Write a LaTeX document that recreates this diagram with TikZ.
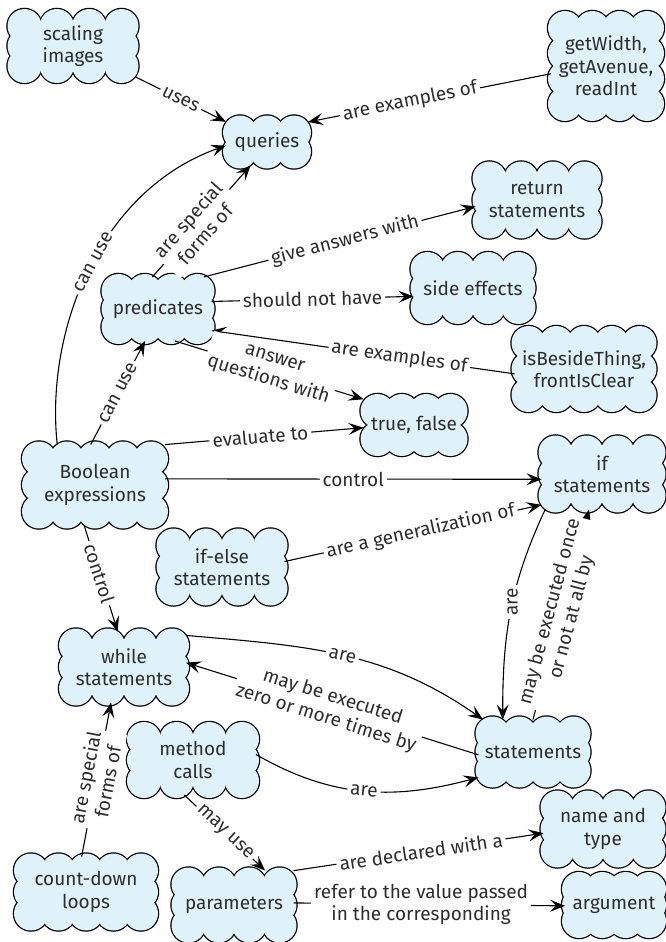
\documentclass[tikz,border=0pt]{standalone}
\usepackage{fontspec}
\setmainfont{Fira Sans}
\usetikzlibrary{arrows.meta,calc}
\definecolor{cloudfill}{RGB}{223,242,250}
\definecolor{ink}{RGB}{45,45,45}
\pgfdeclarelayer{paper}
\pgfdeclarelayer{puffline}
\pgfdeclarelayer{pufffill}
\pgfsetlayers{paper,puffline,pufffill,main}
% radius of one puff and how far the puff centres sit inside the node border
\newcommand\puffr{17pt}
\newcommand\puffinset{14}
% one pass of puffs (outline pass or fill pass) round a named node
\newcommand\puffpass[5]{%
  \begin{pgfonlayer}{#1}
    \foreach \i in {0,...,#4} {
      \pgfmathsetmacro\fr{\i/#4}
      \path[#2] ($(#3-tl)!\fr!(#3-tr)$) circle[radius=\puffr]
                ($(#3-bl)!\fr!(#3-br)$) circle[radius=\puffr];
    }
    \ifnum#5>0
    \foreach \j in {1,...,#5} {
      \pgfmathsetmacro\fr{\j/(#5+1)}
      \path[#2] ($(#3-tl)!\fr!(#3-bl)$) circle[radius=\puffr]
                ($(#3-tr)!\fr!(#3-br)$) circle[radius=\puffr];
    }
    \fi
    \path[#2] (#3-tl) rectangle (#3-br);
  \end{pgfonlayer}}
% cloud behind a node: #1 name, #2 gaps along top/bottom, #3 puffs on each side
\newcommand\puffcloud[3]{%
  \coordinate (#1-tl) at ([shift={(\puffinset,\puffinset)}]#1.north west);
  \coordinate (#1-tr) at ([shift={(-\puffinset,\puffinset)}]#1.north east);
  \coordinate (#1-bl) at ([shift={(\puffinset,-\puffinset)}]#1.south west);
  \coordinate (#1-br) at ([shift={(-\puffinset,-\puffinset)}]#1.south east);
  \puffpass{puffline}{puffstroke}{#1}{#2}{#3}%
  \puffpass{pufffill}{puffbody}{#1}{#2}{#3}}
\begin{document}
\begin{tikzpicture}[x=1pt,y=-1pt,
  every node/.style={font=\fontsize{19}{22.5}\selectfont, text=ink},
  concept/.style={rectangle, align=center, inner sep=0pt, outer sep=1pt},
  puffstroke/.style={draw=black, line width=2.5pt},
  puffbody/.style={fill=cloudfill},
  con/.style={draw=black, line width=1.1pt},
  arr/.style={con, -{Stealth[length=15pt, width=12pt, inset=6pt]}},
  lbl/.style={fill=white, inner sep=3pt, align=center}]
\useasboundingbox (0,0) rectangle (665,942);
\begin{pgfonlayer}{paper}
  \fill[white] (0,0) rectangle (665,942);
\end{pgfonlayer}

% concepts
\node[concept, minimum width=123pt, minimum height=66pt]  (scal)    at (73,46)   {scaling\\images};
\node[concept, minimum width=80pt,  minimum height=45pt]  (queries) at (267,142) {queries};
\node[concept, minimum width=108pt, minimum height=102pt] (getw)    at (606,66)  {getWidth,\\getAvenue,\\readInt};
\node[concept, minimum width=121pt, minimum height=69pt]  (ret)     at (537,200) {return\\statements};
\node[concept, minimum width=105pt, minimum height=62pt]  (pred)    at (158,309) {predicates};
\node[concept, minimum width=117pt, minimum height=64pt]  (side)    at (473,288) {side effects};
\node[concept, minimum width=137pt, minimum height=78pt]  (isb)     at (584,369) {isBesideThing,\\frontIsClear};
\node[concept, minimum width=99pt,  minimum height=54pt]  (tf)      at (414,425) {true, false};
\node[concept, minimum width=138pt, minimum height=79pt]  (bool)    at (95,485)  {Boolean\\expressions};
\node[concept, minimum width=119pt, minimum height=69pt]  (ifs)     at (602,474) {if\\statements};
\node[concept, minimum width=123pt, minimum height=69pt]  (ifelse)  at (222,567) {if-else\\statements};
\node[concept, minimum width=122pt, minimum height=69pt]  (whiles)  at (124,667) {while\\statements};
\node[concept, minimum width=124pt, minimum height=68pt]  (meth)    at (193,760) {method\\calls};
\node[concept, minimum width=107pt, minimum height=63pt]  (stmts)   at (533,752) {statements};
\node[concept, minimum width=136pt, minimum height=69pt]  (cdl)     at (86,892)  {count-down\\loops};
\node[concept, minimum width=117pt, minimum height=67pt]  (params)  at (234,905) {parameters};
\node[concept, minimum width=117pt, minimum height=69pt]  (name)    at (603,829) {name and\\type};
\node[concept, minimum width=96pt,  minimum height=58pt]  (arg)     at (614,905) {argument};

% cloud outlines behind the concepts
\puffcloud{scal}{3}{1}
\puffcloud{queries}{2}{0}
\puffcloud{getw}{3}{2}
\puffcloud{ret}{3}{1}
\puffcloud{pred}{3}{1}
\puffcloud{side}{3}{1}
\puffcloud{isb}{4}{1}
\puffcloud{tf}{3}{0}
\puffcloud{bool}{4}{1}
\puffcloud{ifs}{3}{1}
\puffcloud{ifelse}{3}{1}
\puffcloud{whiles}{3}{1}
\puffcloud{meth}{3}{1}
\puffcloud{stmts}{3}{1}
\puffcloud{cdl}{4}{1}
\puffcloud{params}{3}{1}
\puffcloud{name}{3}{1}
\puffcloud{arg}{3}{1}

% links
\draw[arr] (scal) -- node[lbl, sloped] (l1) {uses} (queries);
\draw[arr] (getw.188) -- node[lbl, sloped, pos=0.58] (l2) {are examples of} (queries.26);
\draw[arr] (bool.133) .. controls (45,330) and (100,190) .. node[lbl, sloped, pos=0.52] (l3) {can use} (queries.185);
\draw[arr] (pred.100) -- node[lbl, sloped, pos=0.45] (l4) {are special\\forms of} (queries.235);
\draw[arr] (pred.35) -- node[lbl, sloped, pos=0.52] (l5) {give answers with} (ret.186);
\draw[arr] (pred.8) -- node[lbl, sloped] (l6) {should not have} (side.188);
\draw[arr] (isb.184) -- node[lbl, sloped, pos=0.38] (l7) {are examples of} (pred.-22);
\draw[arr] (pred.-62) -- node[lbl, sloped, pos=0.51] (l8) {answer\\questions with} (tf.153);
\draw[arr] (bool.96) -- node[lbl, sloped] (l9) {can use} (pred.248);
\draw[arr] (bool.30) -- node[lbl, sloped, pos=0.48] (l10) {evaluate to} (tf.183);
\draw[arr] (bool.5) -- node[lbl] (l11) {control} (ifs.185);
\draw[arr] (ifelse.5) -- node[lbl, sloped, pos=0.53] (l12) {are a generalization of} (ifs.207);
\draw[arr] (bool.255) -- node[lbl, sloped, pos=0.45] (l13) {control} (whiles.100);
\draw[arr] (ifs.212) to[out=245, in=90] node[lbl, rotate=90, pos=0.45] (l14) {are} (stmts.133);
\draw[arr] (stmts.90) -- node[lbl, sloped] (l15) {may be executed once\\or not at all by} (ifs.250);
\draw[arr] (whiles.27) to[out=-5, in=145] node[lbl, sloped] (l16) {are} (stmts.147);
\draw[arr] (stmts.183) -- node[lbl, sloped, pos=0.51] (l17) {may be executed\\zero or more times by} (whiles.4);
\draw[arr] (meth.5) to[out=-30, in=195] node[lbl, sloped] (l18) {are} (stmts.205);
\draw[arr] (meth.256) -- node[lbl, sloped] (l19) {may use} (params.48);
\draw[arr] (cdl.97) -- node[lbl, sloped] (l20) {are special\\forms of} (whiles.250);
\draw[arr] (params.30) -- node[lbl, sloped, pos=0.51] (l21) {are declared with a} (name.184);
\draw[arr] (params.2) -- node[lbl, pos=0.47] (l22) {refer to the value passed\\in the corresponding} (arg.181);
\end{tikzpicture}
\end{document}
